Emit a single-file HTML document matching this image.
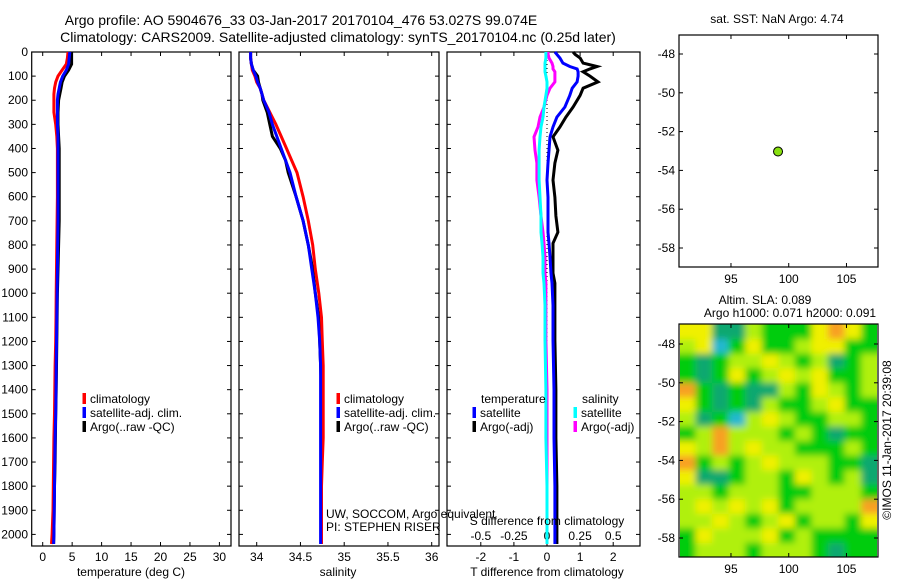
<!DOCTYPE html>
<html><head><meta charset="utf-8"><style>
html,body{margin:0;padding:0;background:#fff;}
svg{display:block;font-family:"Liberation Sans",sans-serif;}
text{font-size:12px;fill:#000;}
</style></head><body>
<svg id="chart" width="900" height="580" viewBox="0 0 900 580">
<defs>
<filter id="blur" x="-10%" y="-10%" width="120%" height="120%"><feGaussianBlur stdDeviation="3.5"/></filter>
<clipPath id="hmclip"><rect x="680" y="324" width="197" height="233"/></clipPath>
</defs>
<text x="301" y="25" text-anchor="middle" style="font-size:14px">Argo profile: AO 5904676_33 03-Jan-2017 20170104_476 53.027S 99.074E</text>
<text x="338" y="42" text-anchor="middle" style="font-size:14px">Climatology: CARS2009. Satellite-adjusted climatology: synTS_20170104.nc (0.25d later)</text>
<g id="layer"></g>
</svg>
<script>
const depths=[0,25,50,75,100,125,150,175,200,250,300,350,400,450,500,600,700,800,900,1000,1100,1200,1300,1400,1500,1600,1700,1800,1900,2000,2040];
const tempArgo=[4.9,4.9,4.9,4.4,3.7,3.3,3.1,2.9,2.7,2.6,2.6,2.7,2.8,2.8,2.8,2.8,2.8,2.7,2.6,2.5,2.45,2.4,2.35,2.3,2.2,2.15,2.1,2.0,1.95,1.9,1.85];
const tempClim=[4.3,4.2,4.0,3.3,2.6,2.2,2.0,1.9,1.9,1.9,2.2,2.4,2.5,2.5,2.5,2.5,2.45,2.4,2.35,2.3,2.25,2.2,2.1,2.05,2.0,1.9,1.85,1.8,1.75,1.6,1.5];
const tempSat=[4.6,4.5,4.4,4.0,3.4,3.0,2.8,2.6,2.5,2.5,2.5,2.6,2.6,2.6,2.6,2.6,2.6,2.55,2.5,2.45,2.4,2.35,2.3,2.25,2.2,2.1,2.05,2.0,1.95,1.9,1.85];
const salArgo=[33.93,33.93,33.94,33.96,34.01,34.02,34.04,34.06,34.07,34.12,34.15,34.18,34.27,34.33,34.36,34.45,34.53,34.59,34.64,34.67,34.71,34.72,34.73,34.74,34.74,34.74,34.74,34.74,34.74,34.74,34.74];
const salClim=[33.93,33.93,33.94,33.95,33.98,34.0,34.04,34.06,34.08,34.15,34.22,34.28,34.34,34.40,34.46,34.53,34.59,34.64,34.67,34.71,34.74,34.75,34.76,34.76,34.76,34.76,34.75,34.74,34.74,34.74,34.74];
const salSat=[33.93,33.93,33.94,33.96,33.99,34.01,34.04,34.06,34.08,34.14,34.18,34.23,34.28,34.33,34.38,34.45,34.53,34.59,34.63,34.67,34.70,34.72,34.73,34.73,34.73,34.73,34.73,34.73,34.73,34.73,34.73];
const diffDepths=[0,10,25,46,60,70,82,100,124,150,180,228,270,311,352,407,460,531,602,680,747,793,850,917,958,1050,1195,1400,1600,1800,2000,2040];
const dTArgo=[0.79,0.85,1.0,1.09,1.51,1.3,1.09,1.3,1.54,1.09,1.0,0.79,0.57,0.39,0.18,0.33,0.24,0.18,0.24,0.27,0.33,0.18,0.18,0.18,0.24,0.24,0.24,0.27,0.27,0.30,0.30,0.30];
const dTSat=[0.24,0.30,0.39,0.48,0.69,0.91,0.94,0.94,0.91,0.76,0.69,0.54,0.30,0.18,0.09,0.06,0.03,0,0.03,0.03,0.03,0.06,0.09,0.12,0.15,0.18,0.18,0.21,0.21,0.24,0.24,0.24];
const dSSat=[-0.008,-0.008,-0.008,-0.015,-0.015,-0.015,-0.015,-0.008,0,0,-0.008,-0.023,-0.030,-0.045,-0.053,-0.060,-0.060,-0.060,-0.053,-0.045,-0.045,-0.038,-0.030,-0.030,-0.023,-0.015,-0.015,-0.008,-0.008,0,0,0];
const dSArgo=[0.008,0.008,0.015,0.038,0.045,0.045,0.060,0.060,0.060,0.023,0,-0.023,-0.053,-0.068,-0.098,-0.091,-0.076,-0.076,-0.060,-0.045,-0.030,-0.023,-0.015,-0.015,-0.008,-0.008,-0.008,0,0,0,0,0];
const depthTicks=[0,100,200,300,400,500,600,700,800,900,1000,1100,1200,1300,1400,1500,1600,1700,1800,1900,2000];
const tempTicks=[0,5,10,15,20,25,30];
const salTicks=[34,34.5,35,35.5,36];
const salTickLabels=["34","34.5","35","35.5","36"];
const dTTicks=[-2,-1,0,1,2];
const dSTicks=[-0.5,-0.25,0,0.25,0.5];
const dSTickLabels=["-0.5","-0.25","0","0.25","0.5"];
const latTicks=[-48,-50,-52,-54,-56,-58];
const lonTicks=[95,100,105];
const argoLon=[99.074];
const argoLat=[-53.027];
const slaLevels=[
[4,4,1,1,3,2,2,2,4,5,4,2],
[3,4,0,2,4,2,2,3,4,4,2,2],
[2,1,2,3,3,4,3,2,3,1,2,3],
[2,1,2,4,2,3,4,3,4,2,2,3],
[5,2,1,2,1,1,3,2,4,3,2,3],
[4,2,1,2,1,3,2,2,3,4,2,2],
[3,1,2,0,3,4,3,2,2,3,3,2],
[2,3,5,3,3,3,2,3,2,1,2,2],
[4,3,5,3,4,3,3,2,2,2,3,2],
[5,2,3,2,3,4,3,3,3,2,2,1],
[4,1,1,2,3,3,2,4,3,2,3,1],
[3,3,2,3,3,3,2,2,3,3,3,2],
[3,4,3,4,3,4,2,3,3,3,3,5],
[3,3,4,3,2,3,4,2,3,3,2,4],
[2,4,3,3,3,4,2,3,2,2,2,2],
[2,3,3,3,2,3,3,3,2,1,2,2]];
const slaColors=["#20b8d0","#10a870","#00cc10","#b0f010","#f0f000","#f8a020"];

const NS='http://www.w3.org/2000/svg';
const layer=document.getElementById('layer');
function mk(tag,attrs,parent){const e=document.createElementNS(NS,tag);for(const k in attrs)e.setAttribute(k,attrs[k]);(parent||layer).appendChild(e);return e;}
function txt(x,y,s,anchor,extra){const e=mk('text',Object.assign({x:x,y:y,'text-anchor':anchor||'start'},extra||{}));e.textContent=s;return e;}

const yD=d=>52+d*0.2412;
const xT=t=>42.7+5.89*t;
const xS=s=>256.7+87.5*(s-34);
const xDT=t=>547+33.1*t;
const xDS=s=>547+132.4*s;

function box(x0,x1,name){
  const r=mk('rect',{x:x0,y:52,width:x1-x0,height:494,fill:'none',stroke:'#000','stroke-width':1.2});
  
  
  depthTicks.forEach(d=>{mk('line',{x1:x0,x2:x0+4,y1:yD(d),y2:yD(d),stroke:'#000'});mk('line',{x1:x1-4,x2:x1,y1:yD(d),y2:yD(d),stroke:'#000'});});
}
function xticks(vals,fx,labels,ly,name){
  vals.forEach((v,i)=>{const x=fx(v);mk('line',{x1:x,x2:x,y1:52,y2:56,stroke:'#000'});mk('line',{x1:x,x2:x,y1:542,y2:546,stroke:'#000'});
    if(ly){const t=txt(x,ly,labels?labels[i]:String(v),'middle');}});
}
function line(xs,ds,fx,color,name,w){
  const pts=xs.map((v,i)=>fx(v).toFixed(1)+','+yD(ds[i]).toFixed(1)).join(' ');
  const p=mk('polyline',{points:pts,fill:'none',stroke:color,'stroke-width':w||3,'stroke-linejoin':'miter'});
  
  
}
function legend(x,y,color,label,name){
  mk('rect',{x:x-1.5,y:y-10,width:3.5,height:11,fill:color});
  const t=txt(x+6,y,label);
  
  
}

box(31.7,231,'temperature-panel');
depthTicks.forEach(d=>{const t=txt(28,yD(d)+4,String(d),'end');});
xticks(tempTicks,xT,null,561,'temperature-tick-label');
line(tempArgo,depths,xT,'#000','temp-argo-line');
line(tempClim,depths,xT,'#ff0000','temp-climatology-line');
line(tempSat,depths,xT,'#0000ff','temp-satellite-line');
legend(84,403,'#ff0000','climatology','legend-climatology');
legend(84,417,'#0000ff','satellite-adj. clim.','legend-satellite-adj');
legend(84,431,'#000','Argo(..raw -QC)','legend-argo');
{const t=txt(131,576,'temperature (deg C)','middle');}

box(239,439,'salinity-panel');
xticks(salTicks,xS,salTickLabels,561,'salinity-tick-label');
line(salArgo,depths,xS,'#000','sal-argo-line');
line(salClim,depths,xS,'#ff0000','sal-climatology-line');
line(salSat,depths,xS,'#0000ff','sal-satellite-line');
legend(338,403,'#ff0000','climatology','legend-climatology-2');
legend(338,417,'#0000ff','satellite-adj. clim.','legend-satellite-adj-2');
legend(338,431,'#000','Argo(..raw -QC)','legend-argo-2');
{const t=txt(338,576,'salinity','middle');}

box(447,640,'difference-panel');
xticks(dTTicks,xDT,null,561,'t-diff-tick-label');
dSTicks.forEach((v,i)=>{const t=txt(xDS(v),540,dSTickLabels[i],'middle');});
mk('line',{x1:xDT(0),x2:xDT(0),y1:52,y2:546,stroke:'#000','stroke-width':1,'stroke-dasharray':'1,3'});
line(dTArgo,diffDepths,xDT,'#000','dt-argo-line');
line(dTSat,diffDepths,xDT,'#0000ff','dt-satellite-line');
line(dSArgo,diffDepths,xDS,'#ff00ff','ds-argo-line');
line(dSSat,diffDepths,xDS,'#00ffff','ds-satellite-line');
txt(481,403,'temperature');
txt(582,403,'salinity');
legend(474,417,'#0000ff','satellite','legend-t-satellite');
legend(474,431,'#000','Argo(-adj)','legend-t-argo');
legend(575,417,'#00ffff','satellite','legend-s-satellite');
legend(575,431,'#ff00ff','Argo(-adj)','legend-s-argo');
{const t=txt(547,525,'S difference from climatology','middle');}
{const t=txt(547,576,'T difference from climatology','middle');}
{const t=txt(326,518,'UW, SOCCOM, Argo equivalent');}
{const t=txt(326,531,'PI: STEPHEN RISER');}

const lonX=l=>679+11.55*(l-90.5);
function mapAxes(y0,y1,latY,name){
  const r=mk('rect',{x:679,y:y0,width:199,height:y1-y0,fill:'none',stroke:'#000','stroke-width':1.2});
  
  
  latTicks.forEach(l=>{const y=latY(l);mk('line',{x1:679,x2:683,y1:y,y2:y,stroke:'#000'});mk('line',{x1:874,x2:878,y1:y,y2:y,stroke:'#000'});
    const t=txt(675,y+4,String(l),'end');});
  lonTicks.forEach(l=>{const x=lonX(l);mk('line',{x1:x,x2:x,y1:y0,y2:y0+4,stroke:'#000'});mk('line',{x1:x,x2:x,y1:y1-4,y2:y1,stroke:'#000'});
    const t=txt(x,y1+16,String(l),'middle');});
}
const latY1=l=>54+19.4*(-48-l);
mapAxes(35,267,latY1,'sst-map');
{const t=txt(777,23,'sat. SST: NaN Argo: 4.74','middle');}
argoLon.forEach((lo,i)=>{const c=mk('circle',{cx:lonX(lo),cy:latY1(argoLat[i]),r:4.5,fill:'#88e010',stroke:'#000','stroke-width':1});
  
  });

const latY2=l=>344+19.4*(-48-l);
const g=mk('g',{'clip-path':'url(#hmclip)'});


mk('rect',{x:679,y:324,width:199,height:233,fill:'#60d810'},g);
const gb=mk('g',{filter:'url(#blur)'},g);
const nR=slaLevels.length,nC=slaLevels[0].length;
const lon0=90.5,lon1=107.7,lat0=-47,lat1=-59;
slaLevels.forEach((row,r)=>row.forEach((v,c)=>{
  const la=lat0+(lat1-lat0)*r/nR, la2=lat0+(lat1-lat0)*(r+1)/nR;
  const lo=lon0+(lon1-lon0)*c/nC, lo2=lon0+(lon1-lon0)*(c+1)/nC;
  let x=lonX(lo),x2=lonX(lo2),y=latY2(la),y2=latY2(la2);
  if(c===0)x-=12; if(c===nC-1)x2+=12; if(r===0)y-=12; if(r===nR-1)y2+=12;
  const cell=mk('rect',{x:x,y:y,width:x2-x+0.5,height:y2-y+0.5,fill:slaColors[v]},gb);
  
  
}));
mapAxes(324,557,latY2,'sla-map');
{const t=txt(765,304,'Altim. SLA: 0.089','middle');}
{const t=txt(790,317,'Argo h1000: 0.071 h2000: 0.091','middle');}
{const t=txt(0,0,'©IMOS 11-Jan-2017 20:39:08','middle',{transform:'translate(891,440) rotate(-90)'});}
</script>
</body></html>
